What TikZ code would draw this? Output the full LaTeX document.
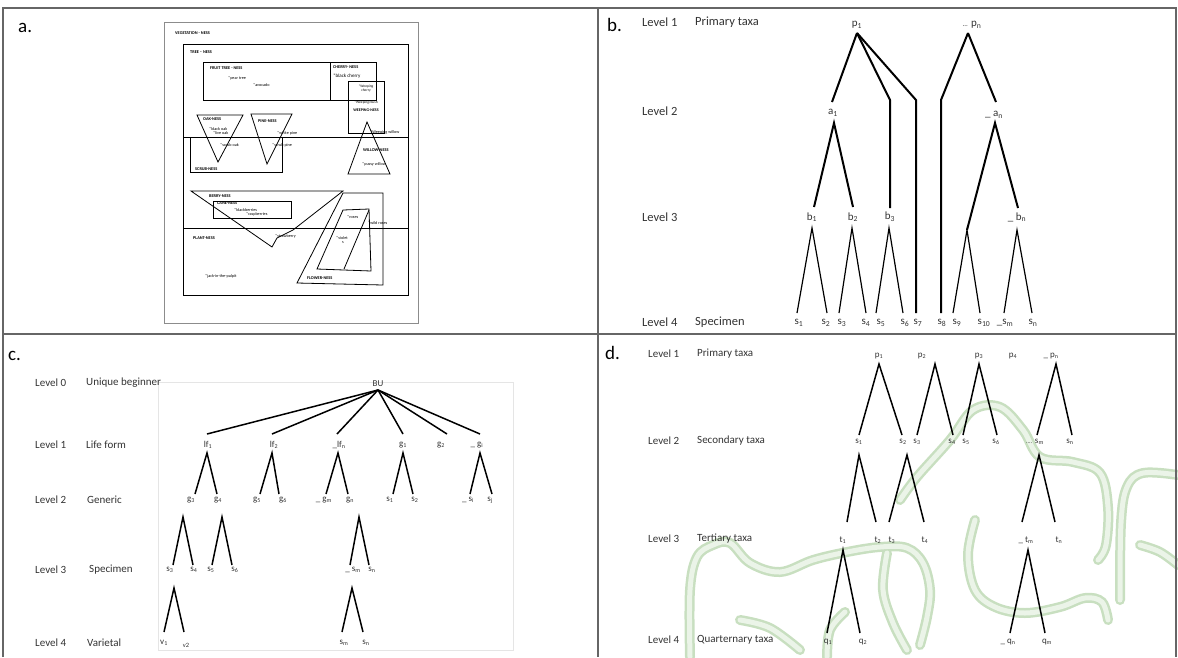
\documentclass[tikz,border=0pt]{standalone}
\usepackage{fontspec}
\setmainfont{Carlito}
\definecolor{wmo}{HTML}{C8DFC0}
\definecolor{wmi}{HTML}{EBF4E8}
\begin{document}
\begin{tikzpicture}[x=1pt,y=-1pt,
  frame/.style={draw=black!60,line width=2.2pt},
  pl/.style={anchor=west,inner sep=0pt,font=\fontsize{19}{20}\selectfont},
  lvb/.style={anchor=west,inner sep=0pt,font=\fontsize{12.5}{14}\selectfont,text=black!80},
  lvc/.style={anchor=west,inner sep=0pt,font=\fontsize{11}{13}\selectfont,text=black!80},
  nb/.style={inner sep=0pt,font=\fontsize{11}{12}\selectfont,text=black!80},
  nc/.style={inner sep=0pt,font=\fontsize{9}{10}\selectfont,text=black!80},
  thk/.style={line width=2pt},
  thn/.style={line width=1.2pt},
  midln/.style={line width=1.5pt},
  ap/.style={line width=0.8pt},
  atxt/.style={anchor=west,inner sep=0pt,font=\bfseries\fontsize{4.3}{5}\selectfont},
  aitem/.style={anchor=west,inner sep=0pt,font=\fontsize{4.2}{4.6}\selectfont},
  wm/.style={line width=10pt,draw=wmo,line cap=round},
  wmin/.style={line width=5pt,draw=wmi,line cap=round}
]
\useasboundingbox (0,0) rectangle (1178,657);

% ---------- watermark in panel d ----------
\foreach \s in {wm,wmin}{
  \draw[\s] plot[smooth,tension=0.6] coordinates {(900,500) (917,477) (950,440) (973,410) (1000,407) (1023,430) (1040,457) (1073,462) (1100,473) (1108,507) (1106,545) (1098,560)};
  \draw[\s] plot[smooth,tension=0.6] coordinates {(975,520) (968,555) (975,590) (995,607) (1025,613) (1060,607) (1085,598) (1102,602) (1108,620)};
  \draw[\s] plot[smooth,tension=0.6] coordinates {(1120,600) (1121,523) (1127,487) (1143,473) (1178,475)};
  \draw[\s] plot[smooth,tension=0.6] coordinates {(1140,545) (1160,552) (1178,565)};
  \draw[\s] plot[smooth,tension=0.6] coordinates {(690,657) (690,590) (697,557) (713,545) (730,543) (750,563) (780,572) (813,560) (847,552) (880,547) (907,548) (923,563) (930,590) (927,617) (920,645)};
  \draw[\s] plot[smooth,tension=0.6] coordinates {(887,553) (883,590) (893,623) (907,650)};
  \draw[\s] plot[smooth,tension=0.6] coordinates {(740,620) (770,628) (800,650)};
  \draw[\s] plot[smooth,tension=0.6] coordinates {(827,657) (830,630) (845,612)};
}

% ---------- frame and dividers ----------
\draw[frame] (3,657) -- (3,8) -- (1176,8) -- (1176,657);
\draw[frame] (3,334) -- (1176,334);
\draw[frame] (598,8) -- (598,657);

% ---------- panel a ----------
\node[pl] (la) at (18,28) {a.};
\draw[draw=black!45,line width=0.8pt] (164,22) rectangle (418,323);
\draw[ap] (183,44) rectangle (408,295);
\draw[ap] (203,62) rectangle (376,100);
\draw[ap] (330,62) -- (330,100);
\draw[ap] (348,81) rectangle (384,133);
\draw[ap] (183,137) -- (408,137);
\draw[ap] (190,137) -- (190,172) -- (282,172) -- (282,137);
\draw[ap] (197,115) -- (243,115) -- (218,162) -- cycle;
\draw[ap] (251,114) -- (292,114) -- (267,164) -- cycle;
\draw[ap] (367,122) -- (390,174) -- (348,174) -- cycle;
\draw[ap] (191,191) -- (343,191) -- (293,230) -- (277,238) -- (272,247) -- cycle;
\draw[ap] (213,201) rectangle (291,218);
\draw[ap] (183,228) -- (408,228);
\draw[ap] (343,193) -- (383,193) -- (383,285) -- (297,283) -- cycle;
\draw[ap] (343,210) -- (369,209) -- (371,271) -- (317,269) -- cycle;
\draw[ap] (369,210) -- (344,269);

\node[atxt] (t1) at (175,33) {VEGETATION - NESS};
\node[atxt] (t2) at (190,52) {TREE – NESS};
\node[atxt] (t3) at (210,68) {FRUIT TREE - NESS};
\node[aitem] (t4) at (228,78) {*pear tree};
\node[aitem] (t5) at (253,85) {*avocado};
\node[atxt] (t6) at (333,67) {CHERRY- NESS};
\node[aitem,font=\fontsize{5}{6}\selectfont] (t7) at (333,76) {*black cherry};
\node[inner sep=0pt,font=\fontsize{3.6}{4}\selectfont,align=center] (t8) at (366,89) {*Weeping\\cherry};
\node[inner sep=0pt,font=\fontsize{3.6}{4}\selectfont] (t9) at (366,103) {*Weeping/bush};
\node[inner sep=0pt,font=\bfseries\fontsize{4}{5}\selectfont] (t10) at (366,110) {WEEPING-NESS};
\node[atxt] (t11) at (203,119) {OAK-NESS};
\node[aitem] (t12) at (209,129) {*black oak};
\node[aitem] (t13) at (213,133) {*live oak};
\node[aitem] (t14) at (220,145) {*scrub oak};
\node[atxt] (t15) at (258,121) {PINE-NESS};
\node[aitem] (t16) at (277,133) {*white pine};
\node[aitem] (t17) at (272,145) {*scrub pine};
\node[aitem] (t18) at (370,132) {*Weeping willow};
\node[atxt] (t19) at (363,150) {WILLOW-NESS};
\node[aitem] (t20) at (362,164) {*pussy willow};
\node[atxt] (t21) at (195,169) {SCRUB-NESS};
\node[atxt] (t22) at (209,196) {BERRY-NESS};
\node[atxt] (t23) at (217,203) {CANE-NESS};
\node[aitem] (t24) at (234,210) {*blackberries};
\node[aitem] (t25) at (246,214) {*raspberries};
\node[aitem] (t26) at (275,236) {*strawberry};
\node[atxt] (t27) at (193,238) {PLANT-NESS};
\node[aitem] (t28) at (205,276) {*jack-in-the-pulpit};
\node[aitem] (t29) at (347,217) {*roses};
\node[aitem,align=center] (t30) at (336,240) {*violet\\\ \ s};
\node[aitem] (t31) at (368,223) {*wild roses};
\node[atxt] (t32) at (307,278) {FLOWER-NESS};

% ---------- panel b ----------
\node[pl] (lb) at (607,25) {b.};
\node[lvb] (b1l) at (642,22) {Level 1};
\node[lvb] (b1n) at (695,22) {Primary taxa};
\node[lvb] (b2l) at (642,111) {Level 2};
\node[lvb] (b3l) at (642,217) {Level 3};
\node[lvb] (b4l) at (642,322) {Level 4};
\node[lvb] (b4n) at (695,322) {Specimen};

\node[nb] (np1) at (857,25) {p\textsubscript{1}};
\node[nb] (npn) at (972,25) {{\fontsize{7}{8}\selectfont ...} p\textsubscript{n}};
\node[nb] (na1) at (833,113) {a\textsubscript{1}};
\node[nb] (nan) at (994,115) {\_ a\textsubscript{n}};
\node[nb] (nb1) at (812,217) {b\textsubscript{1}};
\node[nb] (nb2) at (853,217) {b\textsubscript{2}};
\node[nb] (nb3) at (890,217) {b\textsubscript{3}};
\node[nb] (nbn) at (1017,217) {\_ b\textsubscript{n}};
\foreach \n/\x/\t in {s1/799/s\textsubscript{1},s2/826/s\textsubscript{2},s3/842/s\textsubscript{3},s4/866/s\textsubscript{4},s5/881/s\textsubscript{5},s6/905/s\textsubscript{6},s7/918/s\textsubscript{7},s8/942/s\textsubscript{8},s9/957/s\textsubscript{9},s10/984/s\textsubscript{10},sm/1005/\_s\textsubscript{m},sn/1033/s\textsubscript{n}}
  \node[nb] (b\n) at (\x,323) {\t};

\coordinate (P1) at (857,33);
\coordinate (A1t) at (832,102);
\coordinate (A1) at (834,123);
\coordinate (Q1) at (890,100);
\coordinate (Q1b) at (890,208);
\coordinate (Q2) at (916,100);
\coordinate (Q2b) at (916,313);
\coordinate (PN) at (968,33);
\coordinate (R1) at (941,100);
\coordinate (R1b) at (941,313);
\coordinate (ANt) at (996,102);
\coordinate (AN) at (995,123);
\coordinate (J) at (967,230);
\coordinate (BNt) at (1018,208);
\coordinate (B1t) at (814,207);
\coordinate (B2t) at (853,207);
\coordinate (B1) at (812,228);
\coordinate (B2) at (852,228);
\coordinate (B3) at (889,228);
\coordinate (BN) at (1017,230);
\coordinate (E1) at (797,313);
\coordinate (E2) at (827,313);
\coordinate (E3) at (839,313);
\coordinate (E4) at (866,313);
\coordinate (E5) at (876,313);
\coordinate (E6) at (903,313);
\coordinate (E9) at (953,313);
\coordinate (E10) at (980,313);
\coordinate (Em) at (1004,313);
\coordinate (En) at (1032,313);

\draw[thk] (P1) -- (A1t);
\draw[thk] (P1) -- (Q1) -- (Q1b);
\draw[thk] (P1) -- (Q2) -- (Q2b);
\draw[thk] (PN) -- (R1) -- (R1b);
\draw[thk] (PN) -- (ANt);
\draw[thk] (B1t) -- (A1) -- (B2t);
\draw[thk] (J) -- (AN) -- (BNt);
\draw[thn] (E1) -- (B1) -- (E2);
\draw[thn] (E3) -- (B2) -- (E4);
\draw[thn] (E5) -- (B3) -- (E6);
\draw[thn] (E9) -- (J) -- (E10);
\draw[thn] (Em) -- (BN) -- (En);

% ---------- panel c ----------
\draw[black!10,line width=0.6pt] (158,382) rectangle (513,650);
\node[pl] (lc) at (8,356) {c.};
\node[lvc] (c0l) at (35,383) {Level 0};
\node[lvc] (c0n) at (86,383) {Unique beginner};
\node[lvc] (c1l) at (35,445) {Level 1};
\node[lvc] (c1n) at (86,445) {Life form};
\node[lvc] (c2l) at (35,500) {Level 2};
\node[lvc] (c2n) at (87,500) {Generic};
\node[lvc] (c3l) at (35,570) {Level 3};
\node[lvc] (c3n) at (89,570) {Specimen};
\node[lvc] (c4l) at (35,643) {Level 4};
\node[lvc] (c4n) at (87,643) {Varietal};

\node[nc] (cbu) at (378,384) {BU};
\foreach \n/\x/\t in {lf1/208/lf\textsubscript{1},lf2/274/lf\textsubscript{2},lfn/339/\_lf\textsubscript{n},g1/403/g\textsubscript{1},g2/441/g\textsubscript{2},gi/477/\_ g\textsubscript{i}}
  \node[nc] (c\n) at (\x,445) {\t};
\foreach \n/\x/\t in {g3/191/g\textsubscript{3},g4/218/g\textsubscript{4},g5/257/g\textsubscript{5},g6/283/g\textsubscript{6},gm/324/\_ g\textsubscript{m},gn/350/g\textsubscript{n},s1/390/s\textsubscript{1},s2/415/s\textsubscript{2},si/468/\_ s\textsubscript{i},sj/490/s\textsubscript{j}}
  \node[nc] (c\n) at (\x,500) {\t};
\foreach \n/\x/\t in {s3/170/s\textsubscript{3},s4/194/s\textsubscript{4},s5/211/s\textsubscript{5},s6/235/s\textsubscript{6},sm/353/\_ s\textsubscript{m},sn/372/s\textsubscript{n}}
  \node[nc] (c\n) at (\x,570) {\t};
\node[nc] (cv1) at (164,643) {v\textsubscript{1}};
\node[nc,font=\fontsize{6.5}{7}\selectfont] (cv2) at (186,645) {v2};
\node[nc] (csm2) at (344,643) {s\textsubscript{m}};
\node[nc] (csn2) at (366,643) {s\textsubscript{n}};

\coordinate (BU) at (378,390);
\foreach \n/\x in {1/207,2/272,3/337,4/403,5/447,6/480}
  \coordinate (BUe\n) at (\x,434);
\foreach \n in {1,...,6} \draw[midln] (BU) -- (BUe\n);
\foreach \n/\a/\l/\r in {1/207/195/217,2/272/260/279,3/338/326/348,4/403/393/413,5/480/470/492}{
  \coordinate (LA\n) at (\a,453);
  \coordinate (LL\n) at (\l,494);
  \coordinate (LR\n) at (\r,494);
  \draw[midln] (LL\n) -- (LA\n) -- (LR\n);
}
\foreach \n/\a/\l/\r in {1/183/173/193,2/222/212/232,3/359/350/369}{
  \coordinate (MA\n) at (\a,517);
  \coordinate (ML\n) at (\l,565);
  \coordinate (MR\n) at (\r,565);
  \draw[midln] (ML\n) -- (MA\n) -- (MR\n);
}
\foreach \n/\a/\l/\r in {1/174/164/184,2/352/342/363}{
  \coordinate (VA\n) at (\a,588);
  \coordinate (VL\n) at (\l,632);
  \coordinate (VR\n) at (\r,632);
  \draw[midln] (VL\n) -- (VA\n) -- (VR\n);
}

% ---------- panel d ----------
\node[pl] (ld) at (605,353) {d.};
\node[lvc] (d1l) at (648,354) {Level 1};
\node[lvc] (d1n) at (697,354) {Primary taxa};
\node[lvc] (d2l) at (648,441) {Level 2};
\node[lvc] (d2n) at (697,441) {Secondary taxa};
\node[lvc] (d3l) at (648,539) {Level 3};
\node[lvc] (d3n) at (697,539) {Tertiary taxa};
\node[lvc] (d4l) at (648,640) {Level 4};
\node[lvc] (d4n) at (697,640) {Quarternary taxa};

\foreach \n/\x/\t in {p1/879/p\textsubscript{1},p2/922/p\textsubscript{2},p3/979/p\textsubscript{3},p4/1013/p\textsubscript{4},pn/1051/\_ p\textsubscript{n}}
  \node[nc] (d\n) at (\x,356) {\t};
\foreach \n/\x/\t in {s1/859/s\textsubscript{1},s2/903/s\textsubscript{2},s3/917/s\textsubscript{3},s4/952/s\textsubscript{4},s5/966/s\textsubscript{5},s6/996/s\textsubscript{6},sm/1035/{\fontsize{6}{7}\selectfont ....} s\textsubscript{m},sn/1070/s\textsubscript{n}}
  \node[nc] (d\n) at (\x,442) {\t};
\foreach \n/\x/\t in {t1/843/t\textsubscript{1},t2/878/t\textsubscript{2},t3/892/t\textsubscript{3},t4/925/t\textsubscript{4},tm/1026/\_ t\textsubscript{m},tn/1059/t\textsubscript{n}}
  \node[nc] (d\n) at (\x,540) {\t};
\foreach \n/\x/\t in {q1/828/q\textsubscript{1},q2/863/q\textsubscript{2},qn/1008/\_ q\textsubscript{n},qm/1047/q\textsubscript{m}}
  \node[nc] (d\n) at (\x,642) {\t};

\foreach \n/\a/\l/\r in {1/879/859/902,2/935/917/953,3/979/963/997,4/1056/1037/1072}{
  \coordinate (DA\n) at (\a,364);
  \coordinate (DL\n) at (\l,435);
  \coordinate (DR\n) at (\r,435);
  \draw[midln] (DL\n) -- (DA\n) -- (DR\n);
}
\foreach \n/\a/\l/\r in {1/859/847/876,2/907/889/924,3/1039/1022/1055}{
  \coordinate (DB\n) at (\a,455);
  \coordinate (DBL\n) at (\l,522);
  \coordinate (DBR\n) at (\r,522);
  \draw[midln] (DBL\n) -- (DB\n) -- (DBR\n);
}
\foreach \n/\a/\l/\r in {1/843/827/860,2/1028/1010/1045}{
  \coordinate (DC\n) at (\a,550);
  \coordinate (DCL\n) at (\l,633);
  \coordinate (DCR\n) at (\r,633);
  \draw[midln] (DCL\n) -- (DC\n) -- (DCR\n);
}
\end{tikzpicture}
\end{document}
